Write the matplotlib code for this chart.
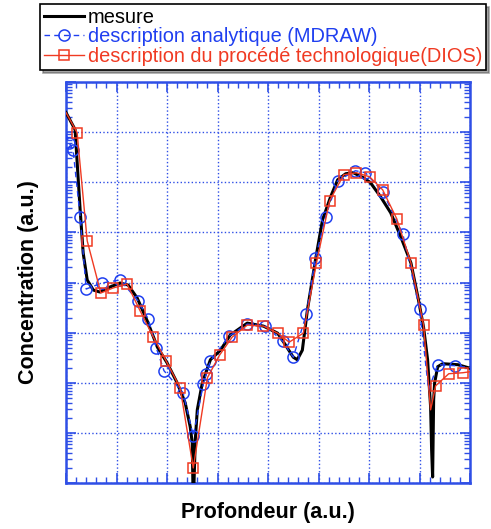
import numpy as np
import matplotlib.pyplot as plt
from matplotlib.ticker import MultipleLocator, LogLocator, NullFormatter

plt.rcParams['font.family'] = ['Liberation Sans', 'DejaVu Sans']

# measured profile (depth, log10 of concentration)
depth_mesure = [0.00, 0.18, 0.28, 0.34, 0.42, 0.54, 0.67, 0.87, 1.07, 1.23, 1.41, 1.61,
                1.81, 2.00, 2.20, 2.36, 2.46, 2.50, 2.52, 2.56, 2.60, 2.70, 2.86, 3.06,
                3.25, 3.59, 3.91, 4.19, 4.31, 4.50, 4.58, 4.68, 4.78, 4.94, 5.08, 5.24,
                5.38, 5.54, 5.69, 5.89, 6.03, 6.23, 6.43, 6.63, 6.83, 6.98, 7.08, 7.16,
                7.22, 7.24, 7.26, 7.28, 7.30, 7.36, 7.46, 7.76, 8.00]
logc_mesure = [7.39, 7.05, 5.45, 4.59, 4.05, 3.85, 3.81, 3.91, 3.99, 3.95, 3.69, 3.23,
               2.71, 2.40, 2.00, 1.60, 1.12, 0.80, -0.50, 0.86, 1.46, 2.00, 2.46, 2.65,
               2.95, 3.19, 3.13, 2.99, 2.81, 2.51, 2.46, 2.65, 3.45, 4.45, 5.25, 5.71,
               6.05, 6.17, 6.19, 6.09, 5.99, 5.71, 5.39, 4.91, 4.39, 3.65, 3.11, 2.46,
               1.52, 0.66, 0.12, 1.66, 2.00, 2.32, 2.38, 2.36, 2.29]

# analytic description (MDRAW)
depth_mdraw = [0.00, 0.06, 0.14, 0.28, 0.40, 0.71, 1.07, 1.43, 1.63, 1.79, 1.94, 2.32,
               2.52, 2.72, 2.78, 2.86, 3.23, 3.59, 3.95, 4.29, 4.50, 4.76, 4.94, 5.14,
               5.38, 5.73, 5.93, 6.27, 6.67, 7.00, 7.18, 7.36, 7.70, 8.00]
logc_mdraw = [6.95, 6.79, 6.65, 5.31, 3.87, 3.99, 4.05, 3.63, 3.27, 2.69, 2.24, 1.80,
              0.94, 1.98, 2.18, 2.44, 2.93, 3.17, 3.13, 2.83, 2.51, 3.37, 4.49, 5.31,
              6.03, 6.23, 6.19, 5.81, 4.97, 3.47, 1.86, 2.36, 2.34, 2.30]
marks_mdraw = [i for i in range(len(depth_mdraw)) if i not in (0, 30, 33)]

# process simulation (DIOS)
depth_dios = [0.00, 0.22, 0.42, 0.69, 0.93, 1.21, 1.47, 1.73, 1.98, 2.26, 2.52, 2.80,
              3.04, 3.29, 3.59, 3.91, 4.19, 4.42, 4.70, 4.96, 5.22, 5.50, 5.75, 6.01,
              6.27, 6.55, 6.83, 7.08, 7.22, 7.32, 7.58, 7.86, 8.00]
logc_dios = [7.39, 6.99, 4.83, 3.79, 3.89, 3.97, 3.43, 2.91, 2.44, 1.90, 0.30, 2.10,
             2.55, 2.91, 3.15, 3.13, 2.99, 2.81, 2.99, 4.39, 5.63, 6.15, 6.19, 6.11,
             5.85, 5.27, 4.39, 3.15, 1.46, 1.94, 2.18, 2.20, 2.22]
marks_dios = [i for i in range(len(depth_dios)) if i not in (0, 28, 32)]

axis_blue = '#2f4fe6'
line_blue = '#1f3ff0'
line_red = '#f03a22'

fig = plt.figure(figsize=(4.91, 5.29), dpi=100)
ax = fig.add_axes([66 / 491, 1 - 483 / 529, 404 / 491, 401 / 529])

ax.plot(depth_mesure, 10 ** np.array(logc_mesure), color='black', lw=2.2,
        label='mesure', zorder=3)
ax.plot(depth_mdraw, 10 ** np.array(logc_mdraw), color=line_blue, lw=1.0,
        ls=(0, (4, 3)), marker='o', ms=8, mfc='none', mec=line_blue, mew=1.1,
        markevery=marks_mdraw, label='description analytique (MDRAW)', zorder=4)
ax.plot(depth_dios, 10 ** np.array(logc_dios), color=line_red, lw=1.0,
        marker='s', ms=6.5, mfc='none', mec=line_red, mew=1.1,
        markevery=marks_dios, label='description du procédé technologique(DIOS)',
        zorder=5)

ax.set_yscale('log')
ax.set_xlim(0, 8)
ax.set_ylim(1, 1e8)
ax.xaxis.set_major_locator(MultipleLocator(1))
ax.xaxis.set_minor_locator(MultipleLocator(0.2))
ax.yaxis.set_major_locator(LogLocator(base=10, numticks=20))
ax.yaxis.set_minor_locator(LogLocator(base=10, subs=np.arange(2, 10), numticks=20))
ax.xaxis.set_major_formatter(NullFormatter())
ax.yaxis.set_major_formatter(NullFormatter())
ax.yaxis.set_minor_formatter(NullFormatter())
ax.tick_params(which='both', direction='in', top=True, right=True, color=axis_blue)
ax.tick_params(which='major', length=7, width=1.2)
ax.tick_params(which='minor', length=4, width=1.0)
for s in ax.spines.values():
    s.set_color(axis_blue)
    s.set_linewidth(1.8)
ax.grid(True, which='major', color=axis_blue, ls=':', lw=1.0)

ax.set_xlabel('Profondeur (a.u.)', fontsize=15.5, fontweight='bold', labelpad=10)
ax.set_ylabel('Concentration (a.u.)', fontsize=15.5, fontweight='bold', labelpad=16)

leg = fig.legend(loc='upper left', bbox_to_anchor=(40 / 491, 1 - 4 / 529),
                 fontsize=14.4, shadow=True, fancybox=False, framealpha=1,
                 edgecolor='black', handlelength=2.0, handletextpad=0.2,
                 labelspacing=0.02, borderpad=0.2, borderaxespad=0)
leg.get_frame().set_linewidth(1.2)
for txt, col in zip(leg.get_texts(), ['black', line_blue, line_red]):
    txt.set_color(col)

fig.savefig('out.png', dpi=100)
